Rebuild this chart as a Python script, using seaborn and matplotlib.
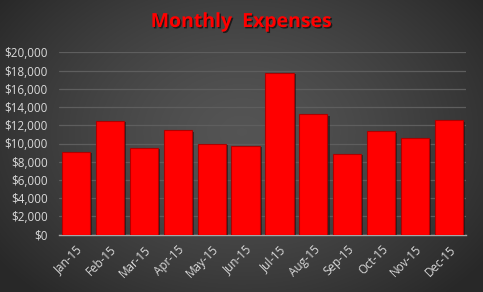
import numpy as np
import pandas as pd
import matplotlib
matplotlib.use("Agg")
import matplotlib.pyplot as plt
import matplotlib.patheffects as pe
import seaborn as sns

months = ["Jan-15", "Feb-15", "Mar-15", "Apr-15", "May-15", "Jun-15",
          "Jul-15", "Aug-15", "Sep-15", "Oct-15", "Nov-15", "Dec-15"]
expenses = [9100, 12500, 9550, 11450, 10000, 9750,
            17750, 13200, 8900, 11350, 10650, 12550]
yticks = list(range(0, 20001, 2000))
title = "Monthly  Expenses"

df = pd.DataFrame({"month": months, "expense": expenses})

sns.set_theme(style="dark")
plt.rcParams['font.family'] = ['Open Sans', 'DejaVu Sans']

W, H, DPI = 483, 292, 100
fig = plt.figure(figsize=(W / DPI, H / DPI), dpi=DPI)

# radial gradient background
bg = fig.add_axes([0, 0, 1, 1], zorder=-10)
yy, xx = np.mgrid[0:H, 0:W]
cx, cy = W * 0.5, H * 0.45
r = np.sqrt(((xx - cx) / (W * 0.62)) ** 2 + ((yy - cy) / (H * 0.75)) ** 2)
r = np.clip(r, 0, 1)
val = 0.33 - 0.17 * r ** 1.4
img = np.dstack([val, val, val])
bg.imshow(img, aspect="auto", extent=[0, 1, 0, 1], origin="upper")
bg.set_axis_off()

ax = fig.add_axes([59 / W, 1 - 234.7 / H, (466 - 59) / W, (234.7 - 52.3) / H])
ax.patch.set_alpha(0)

sns.barplot(data=df, x="month", y="expense", ax=ax, color="#ff0000",
            saturation=1, width=0.83, edgecolor="#b00000", linewidth=0.8,
            zorder=3)
for p in ax.patches:
    p.set_path_effects([pe.SimplePatchShadow(offset=(1.5, -1), shadow_rgbFace="#151515", alpha=0.6),
                        pe.Normal()])

ax.set_ylim(0, 20000)
ax.set_xlim(-0.5, len(months) - 0.5)
ax.set_yticks(yticks)
ax.set_yticklabels([f"${v:,}" for v in yticks])
ax.yaxis.grid(True, color="#5e5e5e", linewidth=0.9, zorder=0)
ax.xaxis.grid(False)
ax.set_axisbelow(True)
for s in ["top", "right", "left"]:
    ax.spines[s].set_visible(False)
ax.spines["bottom"].set_color("#a6a6a6")
ax.spines["bottom"].set_linewidth(1.0)
ax.set_xlabel("")
ax.set_ylabel("")
ax.tick_params(axis="both", length=0, colors="#d9d9d9", labelsize=8.4)
ax.tick_params(axis="y", pad=8)
plt.setp(ax.get_xticklabels(), rotation=45, ha="right", va="top",
         rotation_mode="anchor")
ax.tick_params(axis="x", pad=6)

fig.text(0.5, 1 - 22 / H, title, ha="center", va="center", color="#ff0000",
         fontsize=14, fontweight="bold",
         path_effects=[pe.withSimplePatchShadow(offset=(1, -1), shadow_rgbFace="#000000", alpha=0.6)])

fig.savefig("out.png", dpi=DPI)
